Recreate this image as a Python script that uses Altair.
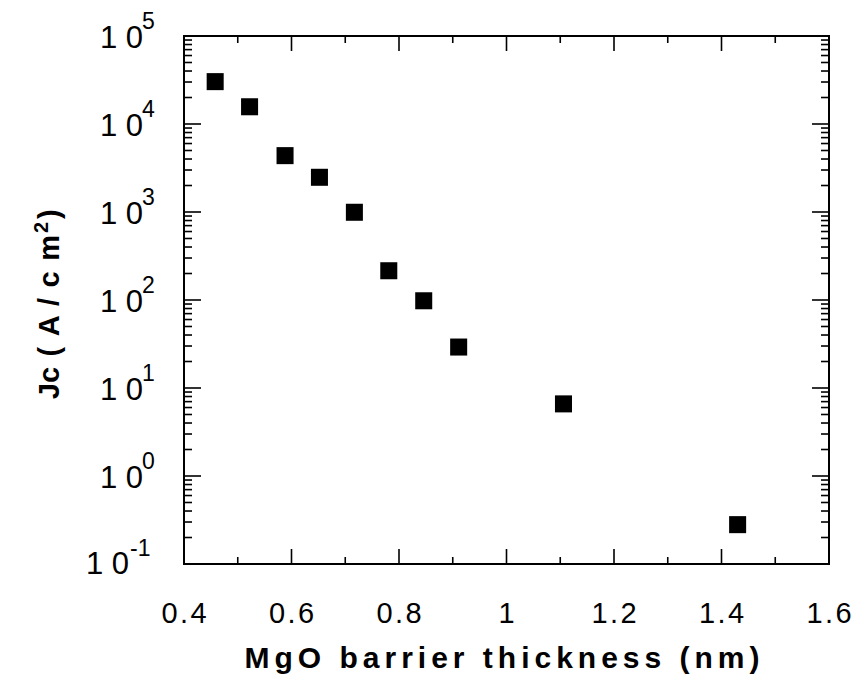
import altair as alt
import pandas as pd

# ---- data ----
thickness_nm = [0.458, 0.522, 0.588, 0.652, 0.717, 0.781, 0.846, 0.911, 1.106, 1.430]
jc_a_cm2 = [30300, 15700, 4370, 2480, 993, 215, 98, 29.2, 6.6, 0.28]

x_major = [0.4, 0.6, 0.8, 1.0, 1.2, 1.4, 1.6]
x_major_labels = ["0.4", "0.6", "0.8", "1", "1.2", "1.4", "1.6"]
x_minor = [0.5, 0.7, 0.9, 1.1, 1.3, 1.5]
y_exponents = [-1, 0, 1, 2, 3, 4, 5]
y_minor_mantissas = [2, 3, 4, 5, 6, 7, 8, 9]

W, H = 645, 528
FONT = "Liberation Sans"

xs = alt.Scale(domain=[0.4, 1.6], nice=False, zero=False)
ys = alt.Scale(type="log", domain=[0.1, 1e5], nice=False)


def X(f):
    return alt.X(f"{f}:Q", scale=xs, axis=None)


def Y(f):
    return alt.Y(f"{f}:Q", scale=ys, axis=None)


pts = pd.DataFrame({"t": thickness_nm, "jc": jc_a_cm2})
xmaj = pd.DataFrame({"v": x_major,
                     "lab": ["\u200a".join(list(s)) for s in x_major_labels]})
xmin = pd.DataFrame({"v": x_minor})
ymaj = pd.DataFrame({"v": [10.0 ** e for e in y_exponents],
                     "e": y_exponents,
                     "exp": [str(e) for e in y_exponents],
                     "base": ["1 0"] * len(y_exponents)})
ymin = pd.DataFrame({"v": [m * 10.0 ** e for e in y_exponents[:-1] for m in y_minor_mantissas]})

rule = dict(color="black", strokeWidth=1.6)

layers = []
# ticks (inward, all four sides)
layers.append(alt.Chart(xmaj).mark_rule(**rule).encode(x=X("v"), y=alt.value(H), y2=alt.value(H - 15)))
layers.append(alt.Chart(xmaj).mark_rule(**rule).encode(x=X("v"), y=alt.value(0), y2=alt.value(15)))
layers.append(alt.Chart(xmin).mark_rule(**rule).encode(x=X("v"), y=alt.value(H), y2=alt.value(H - 7)))
layers.append(alt.Chart(xmin).mark_rule(**rule).encode(x=X("v"), y=alt.value(0), y2=alt.value(7)))
layers.append(alt.Chart(ymaj).mark_rule(**rule).encode(y=Y("v"), x=alt.value(0), x2=alt.value(17)))
layers.append(alt.Chart(ymaj).mark_rule(**rule).encode(y=Y("v"), x=alt.value(W - 17), x2=alt.value(W)))
layers.append(alt.Chart(ymin).mark_rule(**rule).encode(y=Y("v"), x=alt.value(0), x2=alt.value(8)))
layers.append(alt.Chart(ymin).mark_rule(**rule).encode(y=Y("v"), x=alt.value(W - 8), x2=alt.value(W)))

# data points
layers.append(alt.Chart(pts).mark_square(size=290, color="black", opacity=1, filled=True).encode(
    x=X("t"), y=Y("jc")))

# x tick labels
layers.append(alt.Chart(xmaj).mark_text(font=FONT, fontSize=29, align="center", baseline="alphabetic",
                                        color="black").encode(
    x=X("v"), y=alt.value(H + 59), text="lab:N"))

# y tick labels: "10" + superscript exponent
pos = alt.datum.e >= 0
neg = alt.datum.e < 0
layers.append(alt.Chart(ymaj).transform_filter(pos).mark_text(
    font=FONT, fontSize=31, align="right", baseline="middle", dy=3, color="black").encode(
    x=alt.value(-41), y=Y("v"), text="base:N"))
layers.append(alt.Chart(ymaj).transform_filter(neg).mark_text(
    font=FONT, fontSize=31, align="right", baseline="middle", dy=1, color="black").encode(
    x=alt.value(-55), y=Y("v"), text="base:N"))
layers.append(alt.Chart(ymaj).transform_filter(pos).mark_text(
    font=FONT, fontSize=23, align="left", baseline="middle", dy=-14, color="black").encode(
    x=alt.value(-42), y=Y("v"), text="exp:N"))
layers.append(alt.Chart(ymaj).transform_filter(neg).mark_text(
    font=FONT, fontSize=23, align="left", baseline="middle", dy=-15, color="black").encode(
    x=alt.value(-54), y=Y("v"), text="exp:N"))

# axis titles
x_title = "MgO barrier thickness (nm)"
layers.append(alt.Chart(pd.DataFrame({"s": ["\u2006".join(list(x_title))]})).mark_text(
    font=FONT, fontSize=30, fontWeight="bold", align="center", baseline="alphabetic", color="black").encode(
    x=alt.value(318), y=alt.value(632), text="s:N"))

y_title_main = "Jc ( A / c m"
y_title_sup = "2"
y_title_end = ")"
layers.append(alt.Chart(pd.DataFrame({"s": [y_title_main.replace(" ", " \u200a")]})).mark_text(
    font=FONT, fontSize=29, fontWeight="bold", align="right", baseline="alphabetic", angle=270,
    color="black").encode(x=alt.value(-125), y=alt.value(199), text="s:N"))
layers.append(alt.Chart(pd.DataFrame({"s": [y_title_sup]})).mark_text(
    font=FONT, fontSize=20, fontWeight="bold", align="left", baseline="alphabetic", angle=270,
    color="black").encode(x=alt.value(-136), y=alt.value(197), text="s:N"))
layers.append(alt.Chart(pd.DataFrame({"s": [y_title_end]})).mark_text(
    font=FONT, fontSize=29, fontWeight="bold", align="left", baseline="alphabetic", angle=270,
    color="black").encode(x=alt.value(-125), y=alt.value(183), text="s:N"))

chart = alt.layer(*layers).properties(
    width=W, height=H,
    autosize=alt.AutoSizeParams(type="none"),
    padding={"left": 176, "top": 28, "right": 23, "bottom": 112},
    background="white",
).configure_view(stroke="black", strokeWidth=2)

chart.save("out.html", embed_options={"renderer": "svg", "actions": False})
